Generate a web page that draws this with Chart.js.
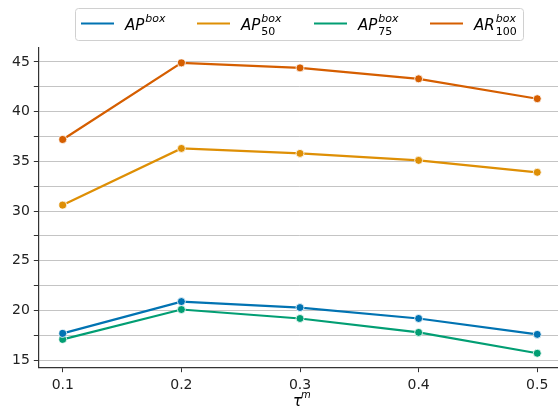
<!DOCTYPE html>
<html lang="en">
  <head>
    <meta charset="UTF-8" />
    <title>AP vs tau</title>
    <script src="https://cdn.jsdelivr.net/npm/chart.js"></script>
    <style>
      body { margin: 0; background: #fff; }
      #wrap { position: relative; width: 558px; height: 410px; overflow: hidden; }
    </style>
  </head>
  <body>
    <div id="wrap"><canvas id="myChart" width="564" height="410"></canvas></div>

    <script>
      const taus = [0.1, 0.2, 0.3, 0.4, 0.5];
      const apBox = [17.7, 20.9, 20.3, 19.2, 17.6];
      const ap50Box = [30.6, 36.3, 35.8, 35.1, 33.9];
      const ap75Box = [17.1, 20.1, 19.2, 17.8, 15.7];
      const ar100Box = [37.2, 44.9, 44.4, 43.3, 41.3];
      const yTicks = [15, 17.5, 20, 22.5, 25, 27.5, 30, 32.5, 35, 37.5, 40, 42.5, 45];

      const series = [
        { base: "AP", sub: "", data: apBox, color: "#0173b2" },
        { base: "AP", sub: "50", data: ap50Box, color: "#de8f05" },
        { base: "AP", sub: "75", data: ap75Box, color: "#029e73" },
        { base: "AR", sub: "100", data: ar100Box, color: "#d55e00" },
      ];

      const FONT = "'DejaVu Sans', sans-serif";

      // legend with super/subscripts drawn by hand
      const mathLegend = {
        id: "mathLegend",
        afterDraw(chart) {
          const ctx = chart.ctx;
          ctx.save();
          ctx.strokeStyle = "#d0d0d0";
          ctx.lineWidth = 1;
          ctx.beginPath();
          ctx.roundRect(75.5, 8.5, 448, 32, 3);
          ctx.fillStyle = "rgba(255,255,255,0.8)";
          ctx.fill();
          ctx.stroke();
          const starts = [81, 197, 314, 430];
          series.forEach((s, i) => {
            const x = starts[i];
            ctx.strokeStyle = s.color;
            ctx.lineWidth = 2;
            ctx.beginPath();
            ctx.moveTo(x, 23.5);
            ctx.lineTo(x + 33, 23.5);
            ctx.stroke();
            ctx.fillStyle = "#000";
            ctx.textBaseline = "alphabetic";
            ctx.font = "oblique 15px " + FONT;
            const tx = x + 44;
            ctx.fillText(s.base, tx, 30);
            const w = ctx.measureText(s.base).width;
            ctx.font = "oblique 11px " + FONT;
            ctx.fillText("box", tx + w + 1, 22);
            if (s.sub) {
              ctx.font = "11px " + FONT;
              ctx.fillText(s.sub, tx + w + 1, 35);
            }
          });
          // x axis title
          ctx.fillStyle = "#000";
          ctx.font = "oblique 15px " + FONT;
          ctx.textAlign = "left";
          const cx = chart.scales.x.getPixelForValue(0.3);
          ctx.fillText("\u03c4", cx - 7, 406);
          ctx.font = "oblique 10px " + FONT;
          ctx.fillText("m", cx + 1, 398);
          ctx.restore();
        },
      };

      const ctx = document.getElementById("myChart").getContext("2d");
      const myChart = new Chart(ctx, {
        type: "line",
        data: {
          datasets: series.map((s) => ({
            label: s.base + s.sub,
            data: s.data.map((v, i) => ({ x: taus[i], y: v })),
            borderColor: s.color,
            backgroundColor: s.color,
            borderWidth: 2.2,
            pointRadius: 4,
            pointBorderColor: "#fff",
            pointBorderWidth: 0.8,
            tension: 0,
          })),
        },
        options: {
          responsive: false,
          animation: false,
          layout: { padding: { top: 48, right: 0, bottom: 11, left: 8 } },
          plugins: { legend: { display: false }, tooltip: { enabled: false } },
          scales: {
            x: {
              type: "linear",
              min: 0.0798,
              max: 0.5185,
              afterBuildTicks: (axis) => {
                axis.ticks = taus.map((v) => ({ value: v }));
              },
              ticks: {
                color: "#222",
                font: { family: FONT, size: 14 },
                padding: 5,
                maxRotation: 0,
                callback: (v) => v.toFixed(1),
              },
              grid: { drawOnChartArea: false, tickLength: 5, color: "#333", tickWidth: 1 },
              border: { color: "#333", width: 1.2 },
            },
            y: {
              min: 14.3,
              max: 46.4,
              afterBuildTicks: (axis) => {
                axis.ticks = yTicks.map((v) => ({ value: v }));
              },
              ticks: {
                color: "#222",
                font: { family: FONT, size: 14 },
                padding: 4,
                callback: (v) => (v % 5 === 0 ? String(v) : ""),
              },
              grid: { color: "#c4c4c4", lineWidth: 1, tickLength: 5, tickColor: "#333" },
              border: { color: "#333", width: 1.2 },
            },
          },
        },
        plugins: [mathLegend],
      });
    </script>
  </body>
</html>
